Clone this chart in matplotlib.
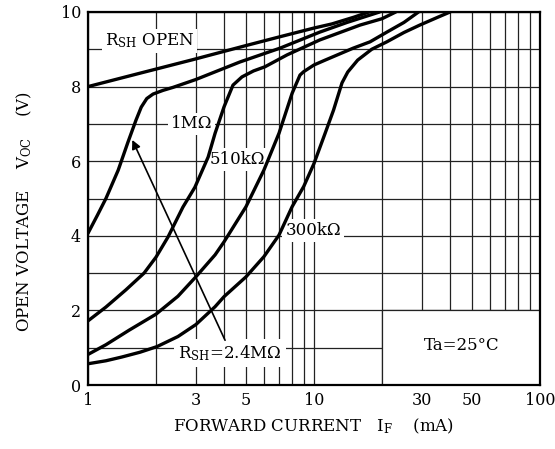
import matplotlib
matplotlib.use('Agg')
import matplotlib.pyplot as plt
from matplotlib.patches import Rectangle
from matplotlib.ticker import FixedLocator, FixedFormatter, NullLocator

plt.rcParams['font.family'] = ['DejaVu Serif']
plt.rcParams['mathtext.fontset'] = 'dejavuserif'
plt.rcParams['mathtext.default'] = 'regular'

# ---- data ----
open_if = [1, 1.7, 2.9, 5, 7, 10, 12, 15, 17.5]
open_v = [8.0, 8.36, 8.72, 9.1, 9.33, 9.57, 9.68, 9.86, 10.0]

r1m_if = [1, 1.1, 1.2, 1.36, 1.5, 1.63, 1.72, 1.82, 1.94, 2.15, 2.38, 3.0, 4.7, 7.07, 10.6, 14, 19.5]
r1m_v = [4.07, 4.55, 5.0, 5.76, 6.5, 7.1, 7.45, 7.68, 7.8, 7.9, 7.98, 8.19, 8.66, 9.03, 9.46, 9.72, 10.0]

r510k_if = [1, 1.2, 1.47, 1.77, 2.0, 2.26, 2.63, 2.97, 3.4, 3.65, 4.0, 4.38, 4.8, 5.4, 6.06, 7.6, 10.6, 16, 20, 23]
r510k_v = [1.72, 2.09, 2.55, 3.0, 3.43, 3.97, 4.77, 5.3, 6.11, 6.75, 7.46, 8.04, 8.26, 8.42, 8.53, 8.85, 9.25, 9.65, 9.82, 10.0]

r300k_if = [1, 1.2, 1.52, 2.0, 2.5, 3.0, 3.65, 4, 5, 6, 7, 8, 8.67, 9, 10, 11.2, 14.9, 17.7, 21, 25, 29]
r300k_v = [0.82, 1.08, 1.47, 1.9, 2.38, 2.9, 3.49, 3.84, 4.78, 5.76, 6.75, 7.82, 8.31, 8.4, 8.58, 8.71, 9.03, 9.2, 9.46, 9.72, 10.0]

r24m_if = [1, 1.2, 1.41, 1.7, 2.02, 2.5, 3.0, 3.65, 4, 5, 6, 7, 8, 9, 10, 11.2, 12.2, 13.3, 14.1, 15.6, 18, 21, 25, 29.4, 35, 40]
r24m_v = [0.57, 0.65, 0.75, 0.88, 1.03, 1.3, 1.62, 2.1, 2.37, 2.9, 3.44, 4.02, 4.78, 5.32, 5.94, 6.75, 7.37, 8.1, 8.39, 8.71, 9.0, 9.2, 9.45, 9.65, 9.85, 10.0]

grid_x = [1, 2, 3, 4, 5, 6, 7, 8, 9, 10, 20, 30, 40, 50, 60, 70, 80, 90, 100]
x_tick_labels = [1, 3, 5, 10, 30, 50, 100]
grid_y = [0, 1, 2, 3, 4, 5, 6, 7, 8, 9, 10]
y_tick_labels = [0, 2, 4, 6, 8, 10]

arrow_from = (4.04, 1.2)
arrow_to = (1.57, 6.57)

# ---- figure ----
fig = plt.figure(figsize=(5.55, 4.49), dpi=100)
ax = fig.add_axes([0.1586, 0.1425, 0.8144, 0.8308])
ax.set_xscale('log')
ax.set_xlim(1, 100)
ax.set_ylim(0, 10)

ax.xaxis.set_major_locator(FixedLocator(grid_x))
ax.xaxis.set_major_formatter(FixedFormatter([str(v) if v in x_tick_labels else '' for v in grid_x]))
ax.xaxis.set_minor_locator(NullLocator())
ax.yaxis.set_major_locator(FixedLocator(grid_y))
ax.yaxis.set_major_formatter(FixedFormatter([str(v) if v in y_tick_labels else '' for v in grid_y]))
ax.tick_params(length=0, labelsize=11.5, colors='black')
ax.tick_params(axis='x', pad=5)
ax.tick_params(axis='y', pad=5)
ax.grid(True, color='#222222', lw=0.9)
ax.set_axisbelow(True)
for s in ax.spines.values():
    s.set_linewidth(1.6)
    s.set_zorder(6)

# Ta box (blank area)
ax.add_patch(Rectangle((20, 0), 80, 2, facecolor='white', edgecolor='#222222', lw=0.9, zorder=1))

cw = 2.4
for xs, ys in [(open_if, open_v), (r1m_if, r1m_v), (r510k_if, r510k_v),
               (r300k_if, r300k_v), (r24m_if, r24m_v)]:
    ax.plot(xs, ys, color='black', lw=cw, zorder=5, solid_joinstyle='round', solid_capstyle='round')

ax.annotate('', xy=arrow_to, xytext=arrow_from,
            arrowprops=dict(arrowstyle='-|>', lw=1.2, color='black', mutation_scale=13,
                            shrinkA=0, shrinkB=0), zorder=5)

bb = dict(facecolor='white', edgecolor='none', pad=2)
fs = 12
ax.text(1.19, 9.22, r'R$_{SH}$ OPEN', fontsize=fs, va='center', ha='left', bbox=bb, zorder=4)
ax.text(2.33, 7.0, '1MΩ', fontsize=fs, va='center', ha='left', bbox=bb, zorder=4)
ax.text(3.45, 6.05, '510kΩ', fontsize=fs, va='center', ha='left', bbox=bb, zorder=4)
ax.text(7.46, 4.15, '300kΩ', fontsize=fs, va='center', ha='left', bbox=bb, zorder=4)
ax.text(2.5, 0.85, r'R$_{SH}$=2.4MΩ', fontsize=fs, va='center', ha='left',
        bbox=dict(facecolor='white', edgecolor='none', pad=3), zorder=4)
ax.text(44.8, 1.05, 'Ta=25°C', fontsize=fs, va='center', ha='center', zorder=4)

ax.set_xlabel(r'FORWARD CURRENT   I$_F$    (mA)', fontsize=12)
ax.xaxis.set_label_coords(0.5, -0.085)
ax.set_ylabel(r'OPEN VOLTAGE    V$_{OC}$    (V)', fontsize=12)
ax.yaxis.set_label_coords(-0.12, 0.465)

fig.savefig('out.png', dpi=100)
